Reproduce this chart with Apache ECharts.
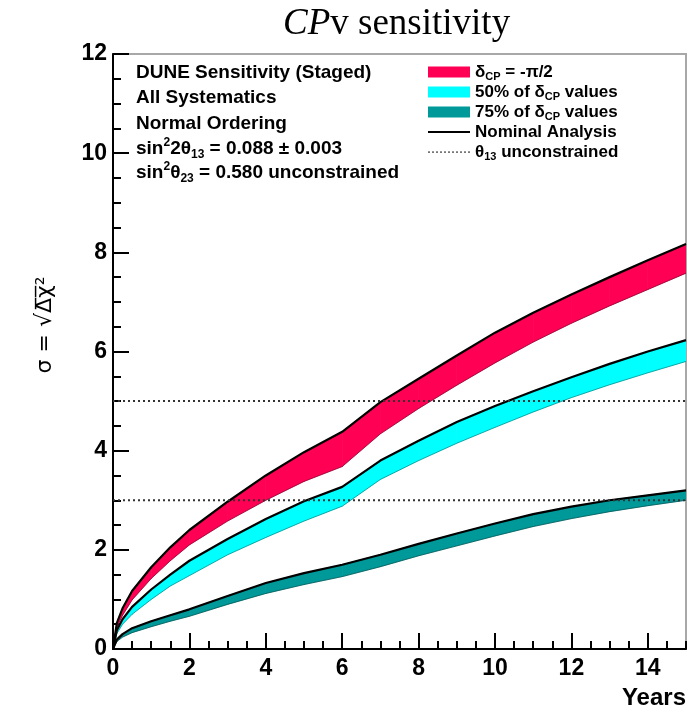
<!DOCTYPE html>
<html><head><meta charset="utf-8">
<script src="https://cdn.jsdelivr.net/npm/echarts@6/dist/echarts.min.js"></script>
<style>html,body{margin:0;padding:0;background:#fff}#c{width:692px;height:718px}</style>
</head><body><div id="c"></div>
<script>
// ---- data ----
const years      = [0, 0.1, 0.25, 0.5, 1, 1.5, 2, 3, 4, 5, 6, 7, 8, 9, 10, 11, 12, 13, 14, 15];
const redUpper   = [0, 0.52, 0.82, 1.17, 1.65, 2.05, 2.40, 2.97, 3.50, 3.97, 4.38, 4.98, 5.45, 5.92, 6.38, 6.78, 7.15, 7.50, 7.84, 8.17];
const redLower   = [0, 0.44, 0.68, 0.99, 1.42, 1.78, 2.10, 2.58, 3.00, 3.38, 3.68, 4.34, 4.85, 5.32, 5.77, 6.19, 6.57, 6.92, 7.25, 7.58];
const cyanUpper  = [0, 0.38, 0.60, 0.85, 1.20, 1.50, 1.78, 2.22, 2.62, 2.98, 3.27, 3.80, 4.20, 4.58, 4.90, 5.20, 5.48, 5.75, 6.00, 6.23];
const cyanLower  = [0, 0.31, 0.50, 0.70, 1.00, 1.27, 1.48, 1.90, 2.25, 2.58, 2.88, 3.42, 3.80, 4.15, 4.47, 4.78, 5.07, 5.33, 5.57, 5.80];
const tealUpper  = [0, 0.19, 0.30, 0.42, 0.56, 0.68, 0.80, 1.07, 1.33, 1.53, 1.70, 1.90, 2.12, 2.33, 2.53, 2.72, 2.87, 3.00, 3.10, 3.20];
const tealLower  = [0, 0.15, 0.24, 0.33, 0.45, 0.56, 0.66, 0.90, 1.12, 1.30, 1.46, 1.66, 1.88, 2.08, 2.28, 2.47, 2.63, 2.77, 2.89, 3.00];
const sigmaLevels = [3, 5];
const xRange = [0, 15];
const yRange = [0, 12];
const bandNames = ['δCP = -π/2', '50% of δCP values', '75% of δCP values'];
const lineNames = ['Nominal Analysis', 'θ13 unconstrained'];
const infoLines = [
  'DUNE Sensitivity (Staged)',
  'All Systematics',
  'Normal Ordering',
  '{b|sin}{sup|2}{b|2θ}{sub|13}{b| = 0.088 ± 0.003}',
  '{b|sin}{sup|2}{b|θ}{sub|23}{b| = 0.580 unconstrained}'
];

// ---- chart ----
const F = '"Liberation Sans", Arial, Helvetica, sans-serif';
const SERIF = '"Liberation Serif", "Times New Roman", serif';
const chart = echarts.init(document.getElementById('c'));
const pairs = ys => years.map((x, i) => [x, ys[i]]);
const segments = (lo, up) => years.slice(0, -1).map((x, i) => [x, lo[i], up[i], years[i + 1], lo[i + 1], up[i + 1]]);

const bands = [
  {name: bandNames[0], up: redUpper,  lo: redLower,  color: '#ff0055'},
  {name: bandNames[1], up: cyanUpper, lo: cyanLower, color: '#00ffff'},
  {name: bandNames[2], up: tealUpper, lo: tealLower, color: '#009999'}
];
const series = [];
bands.forEach((b, k) => {
  series.push({
    type: 'custom', name: b.name, color: b.color, z: 2, silent: true, clip: true,
    data: segments(b.lo, b.up),
    encode: {x: [0, 3], y: [1, 2, 4, 5]},
    renderItem: (params, api) => {
      const pts = [
        api.coord([api.value(0), api.value(1)]),
        api.coord([api.value(3), api.value(4)]),
        api.coord([api.value(3), api.value(5)]),
        api.coord([api.value(0), api.value(2)])
      ];
      return {type: 'polygon', shape: {points: pts}, style: {fill: b.color, stroke: b.color, lineWidth: 0.8}};
    }
  });
  series.push({type: 'line', name: 'lower' + k, data: pairs(b.lo), symbol: 'none',
    lineStyle: {width: 1, color: 'rgba(0,0,0,0.35)'}, z: 3, silent: true});
  series.push({type: 'line', name: lineNames[0], data: pairs(b.up), symbol: 'none', color: '#000',
    lineStyle: {width: 2.2, color: '#000'}, z: 4, silent: true});
});
sigmaLevels.forEach(v => {
  series.push({type: 'line', name: lineNames[1], data: [[xRange[0], v], [xRange[1], v]], symbol: 'none',
    color: '#555', lineStyle: {width: 2, type: [2, 3], color: '#333'}, z: 5, silent: true});
});

const legendRich = {};
legendRich[bandNames[0]] = 'δ{s|CP} = -π/2';
legendRich[bandNames[1]] = '50% of δ{s|CP} values';
legendRich[bandNames[2]] = '75% of δ{s|CP} values';
legendRich[lineNames[0]] = 'Nominal Analysis';
legendRich[lineNames[1]] = 'θ{s|13} unconstrained';

// legend line icons (42 x 11 box)
const solidIcon = 'path://M0,0M0,4.5L42,4.5L42,6.5L0,6.5ZM42,11';
let dots = 'path://M0,0';
for (let x = 0; x < 42; x += 4) dots += 'M' + x + ',4.8h2v1.6h-2Z';
dots += 'M42,11';

const tickLabel = {fontFamily: F, fontWeight: 'bold', fontSize: 23, color: '#000'};
const infoRich = {
  b: {fontFamily: F, fontWeight: 'bold', fontSize: 19, color: '#000', lineHeight: 24},
  sup: {fontFamily: F, fontWeight: 'bold', fontSize: 12, color: '#000', lineHeight: 24, verticalAlign: 'top'},
  sub: {fontFamily: F, fontWeight: 'bold', fontSize: 12, color: '#000', lineHeight: 24, verticalAlign: 'bottom'}
};
const infoY = [73, 98, 124, 149, 173];

chart.setOption({
  animation: false,
  backgroundColor: '#fff',
  title: {
    text: '{i|CP}{n|v sensitivity}',
    left: 278, top: 1,
    textStyle: {fontWeight: 'normal', rich: {
      i: {fontFamily: SERIF, fontStyle: 'italic', fontWeight: 'normal', fontSize: 37, color: '#000'},
      n: {fontFamily: SERIF, fontWeight: 'normal', fontSize: 37, color: '#000'}
    }}
  },
  grid: {left: 113, right: 6, top: 54, bottom: 69, show: true, borderColor: '#a8a8a8', borderWidth: 2,
    containLabel: false, outerBoundsMode: 'none'},
  legend: {
    orient: 'vertical', left: 428, top: 62, padding: 0,
    itemWidth: 42, itemHeight: 11, itemGap: 0, itemTextGap: 12, selectedMode: false,
    data: [
      {name: bandNames[0], icon: 'rect', itemStyle: {color: '#ff0055'}},
      {name: bandNames[1], icon: 'rect', itemStyle: {color: '#00ffff'}},
      {name: bandNames[2], icon: 'rect', itemStyle: {color: '#009999'}},
      {name: lineNames[0], icon: solidIcon, itemStyle: {color: '#000', borderWidth: 0}},
      {name: lineNames[1], icon: dots, itemStyle: {color: '#777', borderWidth: 0}}
    ],
    formatter: n => legendRich[n],
    textStyle: {fontFamily: F, fontWeight: 'bold', fontSize: 17, color: '#000', lineHeight: 20,
      rich: {s: {fontFamily: F, fontWeight: 'bold', fontSize: 11, color: '#000', lineHeight: 20, verticalAlign: 'bottom'}}}
  },
  xAxis: [
    {type: 'value', min: xRange[0], max: xRange[1], interval: 2, position: 'bottom',
      axisLine: {show: true, onZero: false, lineStyle: {color: '#000', width: 2}},
      axisTick: {show: true, inside: true, length: 16, lineStyle: {color: '#000', width: 2}},
      axisLabel: Object.assign({show: true, showMaxLabel: false, margin: 8}, tickLabel),
      splitLine: {show: false},
      name: 'Years', nameLocation: 'end', nameGap: 0, nameMoveOverlap: false,
      nameTextStyle: {fontFamily: F, fontWeight: 'bold', fontSize: 24, color: '#000', align: 'right', verticalAlign: 'top', padding: [37, 0, 0, 0]}},
    {type: 'value', min: xRange[0], max: xRange[1], interval: 0.5, position: 'bottom',
      axisLine: {show: false}, axisLabel: {show: false}, splitLine: {show: false},
      axisTick: {show: true, inside: true, length: 8, lineStyle: {color: '#000', width: 2}}}
  ],
  yAxis: [
    {type: 'value', min: yRange[0], max: yRange[1], interval: 2, position: 'left',
      axisLine: {show: true, onZero: false, lineStyle: {color: '#000', width: 2}},
      axisTick: {show: true, inside: true, length: 16, lineStyle: {color: '#000', width: 2}},
      axisLabel: Object.assign({show: true, margin: 6}, tickLabel),
      splitLine: {show: false}},
    {type: 'value', min: yRange[0], max: yRange[1], interval: 0.5, position: 'left',
      axisLine: {show: false}, axisLabel: {show: false}, splitLine: {show: false},
      axisTick: {show: true, inside: true, length: 8, lineStyle: {color: '#000', width: 2}}}
  ],
  graphic: [
    {type: 'text', x: 45, y: 325, rotation: Math.PI / 2, z: 10,
      style: {text: 'σ = √Δ\u0305χ\u0305²', fontFamily: '"DejaVu Sans", sans-serif', fontSize: 22, fill: '#000',
        align: 'center', verticalAlign: 'middle'}}
  ].concat(infoLines.map((t, i) => ({
      type: 'text', x: 136, y: infoY[i], z: 10,
      style: {text: t.indexOf('{') >= 0 ? t : '{b|' + t + '}', rich: infoRich, align: 'left', verticalAlign: 'middle'}
  }))),
  series: series
});
</script>
</body></html>
